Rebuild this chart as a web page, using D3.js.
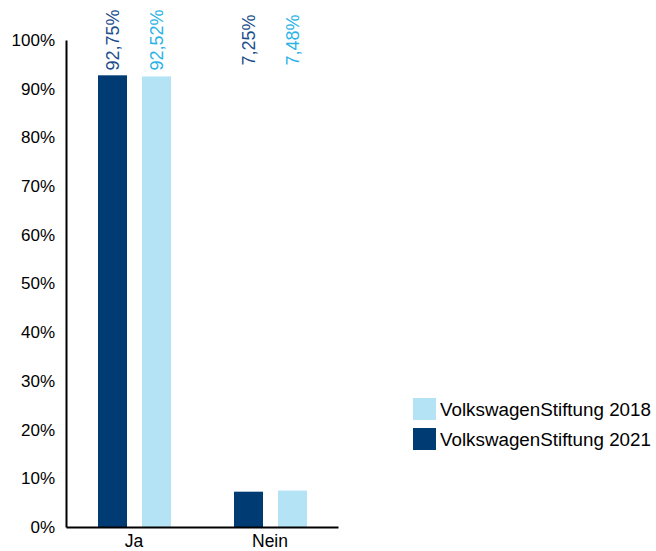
<!DOCTYPE html>
<html>
<head>
<meta charset="utf-8">
<script src="https://cdn.jsdelivr.net/npm/d3@7/dist/d3.min.js"></script>
<style>
  html, body { margin: 0; padding: 0; background: #fff; }
  svg { display: block; font-family: "Liberation Sans", Arial, sans-serif; }
</style>
</head>
<body>
<svg id="chart" width="656" height="551"></svg>
<script>
// Answer categories and survey shares per year
const categories = ["Ja", "Nein"];
const seriesNames = ["VolkswagenStiftung 2021", "VolkswagenStiftung 2018"];
const values2021 = [92.75, 7.25];
const values2018 = [92.52, 7.48];
const labels2021 = ["92,75%", "7,25%"];
const labels2018 = ["92,52%", "7,48%"];
const yTicks = [0, 10, 20, 30, 40, 50, 60, 70, 80, 90, 100];

const colors = {
  "VolkswagenStiftung 2021": "#003b73",
  "VolkswagenStiftung 2018": "#b3e3f5"
};
const labelColors = {
  "VolkswagenStiftung 2021": "#1d4f8c",
  "VolkswagenStiftung 2018": "#2bb3e6"
};

const series = [
  { name: seriesNames[0], values: values2021, labels: labels2021 },
  { name: seriesNames[1], values: values2018, labels: labels2018 }
];

const svg = d3.select("#chart");
const margin = { left: 66, top: 40, right: 318, bottom: 24 };
const width = 656 - margin.left - margin.right;
const height = 551 - margin.top - margin.bottom;

const g = svg.append("g").attr("transform", `translate(${margin.left},${margin.top})`);

const x0 = d3.scaleBand().domain(categories).range([0, width]).padding(0);
const x1 = d3.scaleBand().domain(seriesNames).range([32, 105]).paddingInner(15 / 44).paddingOuter(0);
const y = d3.scaleLinear().domain([0, 100]).range([height, 0]);

// Bars
const groups = g.selectAll("g.cat")
  .data(categories)
  .join("g")
  .attr("class", "cat")
  .attr("transform", d => `translate(${x0(d)},0)`);

groups.each(function (cat, i) {
  const grp = d3.select(this);
  series.forEach(s => {
    grp.append("rect")
      .attr("x", x1(s.name))
      .attr("width", x1.bandwidth())
      .attr("y", y(s.values[i]))
      .attr("height", y(0) - y(s.values[i]))
      .attr("fill", colors[s.name]);
    // Value labels, rotated, centred on the top of the value range
    const cx = x1(s.name) + x1.bandwidth() / 2;
    grp.append("text")
      .attr("transform", `translate(${cx + 6},${y(100)}) rotate(-90)`)
      .attr("text-anchor", "middle")
      .attr("font-size", 18)
      .attr("fill", labelColors[s.name])
      .text(s.labels[i]);
  });
});

// Y axis
const yAxis = g.append("g")
  .call(d3.axisLeft(y).tickValues(yTicks).tickFormat(d => d + "%").tickSize(0).tickPadding(11));
yAxis.select(".domain").attr("stroke", "#000").attr("stroke-width", 2);
yAxis.selectAll("text").attr("font-size", 17).attr("fill", "#000").attr("font-family", "Liberation Sans, Arial, sans-serif");

// X axis
const xAxis = g.append("g")
  .attr("transform", `translate(0,${height})`)
  .call(d3.axisBottom(x0).tickSize(0).tickPadding(8));
xAxis.select(".domain").attr("stroke", "#000").attr("stroke-width", 2);
xAxis.selectAll("text").attr("font-size", 17.5).attr("fill", "#000").attr("font-family", "Liberation Sans, Arial, sans-serif");

// Legend
const legendOrder = ["VolkswagenStiftung 2018", "VolkswagenStiftung 2021"];
const legend = svg.append("g").attr("transform", "translate(413,398)");
legendOrder.forEach((name, i) => {
  const row = legend.append("g").attr("transform", `translate(0,${i * 30})`);
  row.append("rect").attr("width", 23).attr("height", 22).attr("fill", colors[name]);
  row.append("text")
    .attr("x", 27)
    .attr("y", 11)
    .attr("dy", "0.35em")
    .attr("font-size", 18.8)
    .attr("fill", "#000")
    .text(name);
});
</script>
</body>
</html>
